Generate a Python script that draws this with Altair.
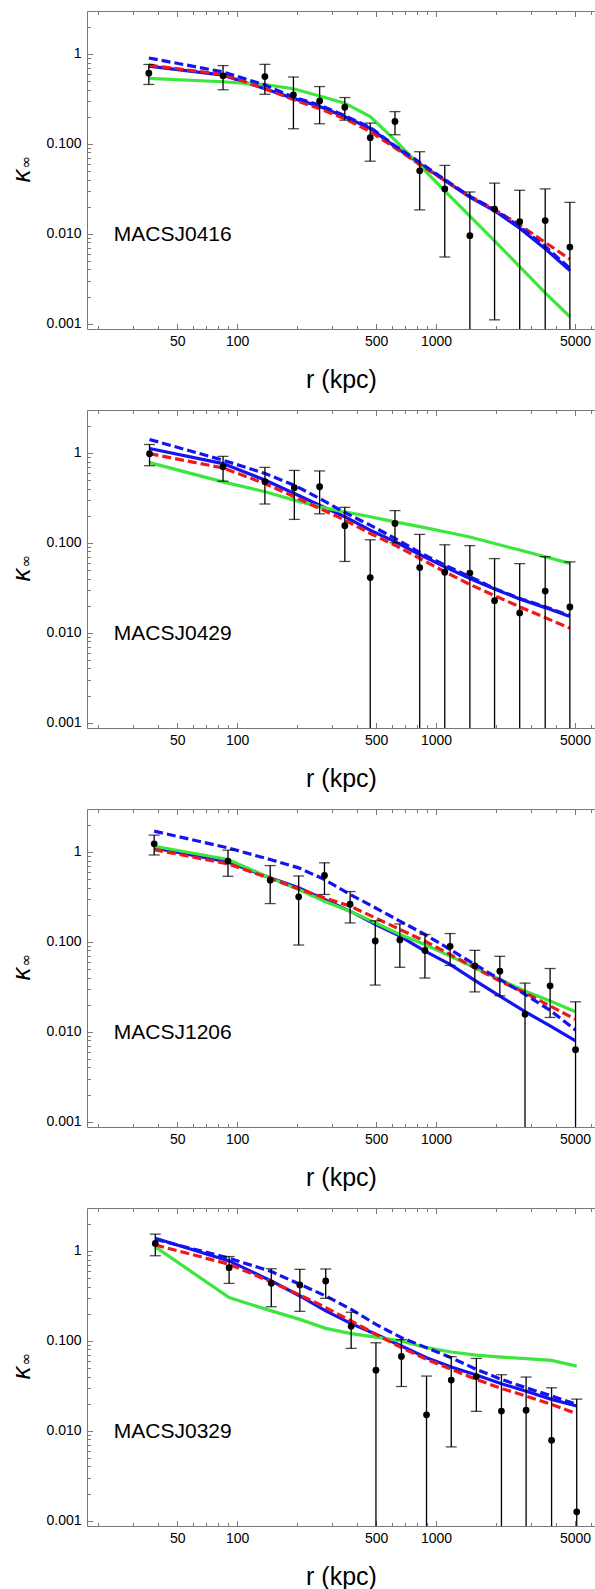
import altair as alt
import pandas as pd

# ---------------- data ----------------
NAMES = ["MACSJ0416", "MACSJ0429", "MACSJ1206", "MACSJ0329"]

R1 = [36, 85, 138, 192, 260, 348, 467, 622, 828, 1107, 1480, 1970, 2635, 3540, 4710]
K1 = [0.61, 0.57, 0.56, 0.35, 0.30, 0.255, 0.117, 0.177, 0.050, 0.0315, 0.0095, 0.0188, 0.0136, 0.0140, 0.0071]
E1 = [0.153, 0.171, 0.205, 0.203, 0.133, 0.072, 0.053, 0.051, 0.0316, 0.026, 0.0196, 0.0177, 0.0168, 0.0175, 0.0152]
BLUE1 = [0.73, 0.58, 0.41, 0.32, 0.26, 0.20, 0.148, 0.093, 0.060, 0.039, 0.0255, 0.018, 0.0115, 0.0068, 0.0039]
GREEN1 = [0.534, 0.49, 0.454, 0.41, 0.34, 0.283, 0.201, 0.110, 0.0574, 0.0299, 0.0157, 0.0083, 0.0043, 0.0022, 0.00119]
RED1 = [0.75, 0.59, 0.41, 0.31, 0.245, 0.19, 0.137, 0.090, 0.059, 0.039, 0.026, 0.0185, 0.0125, 0.0080, 0.0052]
BLUED1 = [0.90, 0.63, 0.45, 0.33, 0.27, 0.205, 0.152, 0.095, 0.062, 0.040, 0.026, 0.0185, 0.012, 0.0072, 0.0041]

R2 = [36.3, 85, 138, 194, 260, 348, 467, 622, 828, 1107, 1480, 1970, 2635, 3540, 4710]
K2 = [0.98, 0.70, 0.48, 0.41, 0.42, 0.155, 0.041, 0.164, 0.053, 0.047, 0.046, 0.0227, 0.0166, 0.029, 0.0193]
E2 = [0.26, 0.215, 0.21, 0.228, 0.21, 0.093, 0.067, 0.064, 0.071, 0.048, 0.047, 0.044, 0.042, 0.041, 0.042]
BLUE2 = [1.12, 0.76, 0.50, 0.353, 0.262, 0.195, 0.138, 0.103, 0.074, 0.054, 0.040, 0.0306, 0.0237, 0.019, 0.0151]
GREEN2 = [0.78, 0.476, 0.369, 0.298, 0.251, 0.221, 0.195, 0.171, 0.151, 0.1325, 0.116, 0.098, 0.083, 0.070, 0.059]
RED2 = [0.98, 0.68, 0.456, 0.325, 0.241, 0.179, 0.127, 0.094, 0.067, 0.0476, 0.0344, 0.0258, 0.0194, 0.0147, 0.0112]
BLUED2 = [1.41, 0.83, 0.59, 0.437, 0.311, 0.217, 0.157, 0.112, 0.078, 0.0565, 0.042, 0.031, 0.024, 0.0194, 0.0155]

R3 = [38.3, 90, 146.7, 204, 275, 370, 495, 658, 880, 1177, 1567, 2094, 2802, 3747, 5030]
K3 = [1.23, 0.79, 0.485, 0.316, 0.546, 0.262, 0.102, 0.105, 0.080, 0.089, 0.054, 0.047, 0.0156, 0.0324, 0.0063]
E3 = [0.306, 0.255, 0.219, 0.224, 0.21, 0.10, 0.069, 0.053, 0.0405, 0.0345, 0.0263, 0.0219, 0.0191, 0.018, 0.0152]
BLUE3 = [1.108, 0.774, 0.514, 0.398, 0.295, 0.219, 0.156, 0.1156, 0.0788, 0.056, 0.0372, 0.0249, 0.0167, 0.0116, 0.0079]
GREEN3 = [1.156, 0.822, 0.514, 0.3815, 0.283, 0.219, 0.1626, 0.1206, 0.0934, 0.0693, 0.0514, 0.0382, 0.0283, 0.0219, 0.0167]
RED3 = [1.06, 0.736, 0.506, 0.388, 0.308, 0.249, 0.185, 0.137, 0.1017, 0.0723, 0.0514, 0.0366, 0.0271, 0.0193, 0.0137]
BLUED3 = [1.70, 1.108, 0.822, 0.664, 0.493, 0.336, 0.239, 0.170, 0.1206, 0.0822, 0.056, 0.0382, 0.026, 0.0173, 0.0104]

R4 = [38.8, 91.2, 148.6, 206.8, 279, 374.6, 499, 670, 896, 1193, 1595, 2133, 2838, 3811, 5099]
K4 = [1.21, 0.65, 0.436, 0.418, 0.463, 0.145, 0.047, 0.067, 0.015, 0.0366, 0.040, 0.0165, 0.0169, 0.0078, 0.00125]
E4 = [0.327, 0.215, 0.197, 0.2055, 0.1665, 0.0627, 0.048, 0.036, 0.0255, 0.030, 0.0236, 0.0254, 0.0226, 0.0222, 0.0212]
BLUE4 = [1.38, 0.774, 0.463, 0.315, 0.215, 0.155, 0.118, 0.0874, 0.0648, 0.051, 0.0416, 0.0333, 0.0275, 0.0223, 0.0188]
GREEN4 = [1.108, 0.302, 0.215, 0.173, 0.1375, 0.12, 0.110, 0.0994, 0.0838, 0.075, 0.0694, 0.0659, 0.0632, 0.0605, 0.0523]
RED4 = [1.166, 0.710, 0.452, 0.3236, 0.234, 0.166, 0.118, 0.0838, 0.0621, 0.0481, 0.0372, 0.0295, 0.0243, 0.0196, 0.0154]
BLUED4 = [1.349, 0.829, 0.589, 0.425, 0.315, 0.224, 0.1525, 0.1083, 0.0838, 0.0648, 0.0481, 0.0372, 0.030, 0.0243, 0.0196]

X_MAJOR = [50, 100, 500, 1000, 5000]
X_MINOR = [20, 30, 40, 60, 70, 80, 90, 200, 300, 400, 600, 700, 800, 900,
           2000, 3000, 4000, 6000]
Y_MAJOR = [0.001, 0.01, 0.1, 1]
Y_MINOR = [m * d for d in (0.001, 0.01, 0.1) for m in range(2, 10)] + [2]
X_DOMAIN = [17.6, 6300]
Y_DOMAIN = [0.00087, 3.0]
LABEL_POS = [24, 0.0097]   # r, kappa of the cluster name

# ---------------- style ----------------
FONT = "Liberation Sans"
GRAY = "#777777"
C_BLUE = "#1414f0"
C_RED = "#f01818"
C_GREEN = "#3ce63c"
W, H = 508, 318
MAJ, MIN = 5.5, 3.5
LW = 3.2

xs = alt.Scale(type="log", domain=X_DOMAIN, nice=False)
ys = alt.Scale(type="log", domain=Y_DOMAIN, nice=False)


def tick_axis(orient, values, size):
    return alt.Axis(orient=orient, values=values, ticks=True, tickSize=size,
                    tickColor=GRAY, tickWidth=1, offset=-size, labels=False,
                    domain=False, grid=False, title=None)


AX_X_MAIN = alt.Axis(orient="bottom", values=X_MAJOR, format="d", ticks=False,
                     domain=True, domainColor=GRAY, domainWidth=1, grid=False,
                     labelFont=FONT, labelFontSize=14, labelColor="black",
                     labelPadding=5, title="r (kpc)", titleFont=FONT,
                     titleFontSize=25, titleFontWeight="normal", titleColor="black",
                     titleBaseline="middle", titleY=50)
AX_Y_MAIN = alt.Axis(orient="left", values=Y_MAJOR, ticks=False, domain=True,
                     domainColor=GRAY, domainWidth=1, grid=False,
                     labelExpr="datum.value >= 1 ? '1' : format(datum.value, '.3f')",
                     labelFont=FONT, labelFontSize=14, labelColor="black",
                     labelPadding=6, title=None)
AX_X_TOP_DOMAIN = alt.Axis(orient="top", ticks=False, labels=False, domain=True,
                           domainColor=GRAY, domainWidth=1, grid=False, title=None)


def panel(name, r, k, e, blue, green, red, blued):
    curves = pd.DataFrame({"r": r, "blue": blue, "green": green,
                           "red": red, "blued": blued})
    lo = [kk - ee if kk - ee > 0 else 1e-6 for kk, ee in zip(k, e)]
    hi = [kk + ee for kk, ee in zip(k, e)]
    pts = pd.DataFrame({"r": r, "k": k, "lo": lo, "hi": hi})
    cap_r = list(r) + [rr for rr, l in zip(r, lo) if l > Y_DOMAIN[0]]
    cap_v = hi + [l for l in lo if l > Y_DOMAIN[0]]
    caps = pd.DataFrame({"r": cap_r, "v": cap_v})

    base = alt.Chart(curves)
    l_blue = base.mark_line(color=C_BLUE, strokeWidth=LW, clip=True).encode(
        x=alt.X("r:Q", scale=xs, axis=AX_X_MAIN),
        y=alt.Y("blue:Q", scale=ys, axis=AX_Y_MAIN))
    l_green = base.mark_line(color=C_GREEN, strokeWidth=LW, clip=True).encode(
        x=alt.X("r:Q", scale=xs, axis=tick_axis("bottom", X_MAJOR, MAJ)),
        y=alt.Y("green:Q", scale=ys, axis=tick_axis("left", Y_MAJOR, MAJ)))
    l_red = base.mark_line(color=C_RED, strokeWidth=LW, strokeDash=[9, 4],
                           clip=True).encode(
        x=alt.X("r:Q", scale=xs, axis=tick_axis("bottom", X_MINOR, MIN)),
        y=alt.Y("red:Q", scale=ys, axis=tick_axis("left", Y_MINOR, MIN)))
    l_blued = base.mark_line(color=C_BLUE, strokeWidth=LW, strokeDash=[9, 4],
                             clip=True).encode(
        x=alt.X("r:Q", scale=xs, axis=tick_axis("top", X_MAJOR, MAJ)),
        y=alt.Y("blued:Q", scale=ys, axis=None))
    bars = alt.Chart(pts).mark_rule(color="black", strokeWidth=1.3,
                                    clip=True).encode(
        x=alt.X("r:Q", scale=xs, axis=tick_axis("top", X_MINOR, MIN)),
        y=alt.Y("hi:Q", scale=ys, axis=None),
        y2="lo:Q")
    capm = alt.Chart(caps).mark_tick(color="black", orient="horizontal",
                                     size=11, thickness=1.3).encode(
        x=alt.X("r:Q", scale=xs, axis=AX_X_TOP_DOMAIN),
        y=alt.Y("v:Q", scale=ys, axis=None))
    dots = alt.Chart(pts).mark_circle(color="black", size=46, opacity=1).encode(
        x=alt.X("r:Q", scale=xs, axis=None),
        y=alt.Y("k:Q", scale=ys, axis=None))
    lab = alt.Chart(pd.DataFrame({"name": [name], "r": [LABEL_POS[0]],
                                  "k": [LABEL_POS[1]]})).mark_text(
        align="left", baseline="middle", font=FONT, fontSize=21,
        color="black").encode(
        x=alt.X("r:Q", scale=xs, axis=None),
        y=alt.Y("k:Q", scale=ys, axis=None),
        text="name:N")
    kap = alt.Chart(pd.DataFrame({"t": ["κ"]})).mark_text(
        angle=270, align="center", baseline="middle", font=FONT, fontSize=26,
        fontStyle="italic", color="black").encode(
        text="t:N", x=alt.value(-65.5), y=alt.value(165))
    inf = alt.Chart(pd.DataFrame({"t": ["∞"]})).mark_text(
        angle=270, align="center", baseline="middle", font="DejaVu Sans",
        fontSize=15, color="black").encode(
        text="t:N", x=alt.value(-61), y=alt.value(151))
    return alt.layer(l_blue, l_green, l_red, l_blued, bars, capm, dots, lab,
                     kap, inf).resolve_axis(x="independent", y="independent"
                     ).properties(width=W, height=H)


panels = [
    panel(NAMES[0], R1, K1, E1, BLUE1, GREEN1, RED1, BLUED1),
    panel(NAMES[1], R2, K2, E2, BLUE2, GREEN2, RED2, BLUED2),
    panel(NAMES[2], R3, K3, E3, BLUE3, GREEN3, RED3, BLUED3),
    panel(NAMES[3], R4, K4, E4, BLUE4, GREEN4, RED4, BLUED4),
]

chart = alt.vconcat(*panels, spacing=17).properties(
    padding={"left": 8, "top": 10, "right": 0, "bottom": 0},
    background="white",
).configure_view(stroke=None)

chart.save("out.html", embed_options={"renderer": "svg", "actions": False})
